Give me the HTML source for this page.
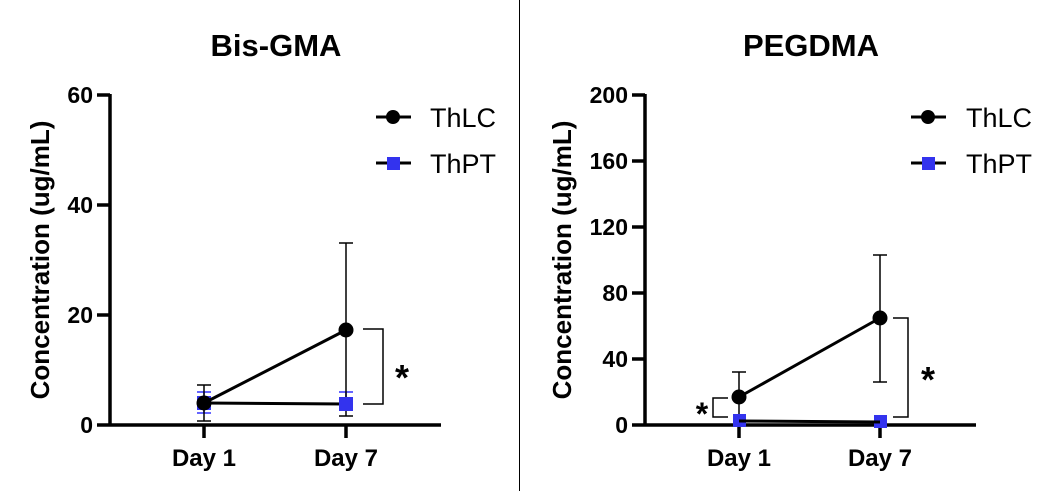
<!DOCTYPE html>
<html><head><meta charset="utf-8"><style>
html,body{margin:0;padding:0;background:#fff;}
svg{display:block;font-family:"Liberation Sans",Arial,sans-serif;}
</style></head><body>
<svg width="1053" height="491" viewBox="0 0 1053 491" xmlns="http://www.w3.org/2000/svg">
<rect width="1053" height="491" fill="#fff"/>
<line x1="519.5" y1="0" x2="519.5" y2="491" stroke="#000" stroke-width="1"/>

<!-- LEFT -->
<text x="276" y="56" font-size="31" font-weight="bold" text-anchor="middle">Bis-GMA</text>
<text transform="translate(49,260) rotate(-90)" font-size="26" font-weight="bold" text-anchor="middle">Concentration (ug/mL)</text>
<g stroke="#000" stroke-width="3.5" fill="none">
<line x1="110" y1="94" x2="110" y2="426"/>
<line x1="97" y1="425" x2="441" y2="425"/>
<line x1="97" y1="95" x2="110" y2="95"/>
<line x1="97" y1="205" x2="110" y2="205"/>
<line x1="97" y1="315" x2="110" y2="315"/>
<line x1="204" y1="425" x2="204" y2="438"/>
<line x1="346" y1="425" x2="346" y2="438"/>
</g>
<g font-size="23" font-weight="bold" text-anchor="end">
<text x="93" y="103">60</text><text x="93" y="213">40</text><text x="93" y="323">20</text><text x="93" y="433">0</text>
</g>
<g font-size="24" font-weight="bold" text-anchor="middle">
<text x="204" y="466">Day 1</text><text x="346" y="466">Day 7</text>
</g>
<g stroke="#3333ff" stroke-width="1.5">
<line x1="197" y1="392" x2="211" y2="392"/><line x1="197" y1="413" x2="211" y2="413"/><line x1="204" y1="392" x2="204" y2="413"/>
<line x1="339" y1="392" x2="353" y2="392"/><line x1="346" y1="392" x2="346" y2="404"/>
</g>
<g stroke="#000" stroke-width="1.5">
<line x1="197" y1="385" x2="211" y2="385"/><line x1="197" y1="421" x2="211" y2="421"/><line x1="204" y1="385" x2="204" y2="421"/>
<line x1="339" y1="243" x2="353" y2="243"/><line x1="339" y1="416" x2="353" y2="416"/><line x1="346" y1="243" x2="346" y2="416"/>
</g>
<polyline points="204,403 346,404" stroke="#000" stroke-width="3" fill="none"/>
<rect x="197" y="396" width="14" height="14" fill="#3333ee"/>
<rect x="339" y="397" width="14" height="14" fill="#3333ee"/>
<polyline points="204,403 346,330" stroke="#000" stroke-width="3" fill="none"/>
<circle cx="204" cy="403" r="7.5" fill="#000"/>
<circle cx="346" cy="330" r="7.5" fill="#000"/>
<polyline points="363,329 383,329 383,404 363,404" stroke="#000" stroke-width="1.5" fill="none"/>
<text x="402" y="390" font-size="36" font-weight="bold" text-anchor="middle">*</text>
<line x1="376" y1="117" x2="411" y2="117" stroke="#000" stroke-width="3"/>
<circle cx="393" cy="117" r="7" fill="#000"/>
<line x1="376" y1="163" x2="411" y2="163" stroke="#000" stroke-width="3"/>
<rect x="387" y="157" width="13" height="13" fill="#3333ee"/>
<text x="430" y="127" font-size="27">ThLC</text>
<text x="430" y="173" font-size="27">ThPT</text>

<!-- RIGHT -->
<text x="811" y="56" font-size="31" font-weight="bold" text-anchor="middle">PEGDMA</text>
<text transform="translate(571,260) rotate(-90)" font-size="26" font-weight="bold" text-anchor="middle">Concentration (ug/mL)</text>
<g stroke="#000" stroke-width="3.5" fill="none">
<line x1="645" y1="94" x2="645" y2="426"/>
<line x1="632" y1="425" x2="976" y2="425"/>
<line x1="632" y1="95" x2="645" y2="95"/>
<line x1="632" y1="161" x2="645" y2="161"/>
<line x1="632" y1="227" x2="645" y2="227"/>
<line x1="632" y1="293" x2="645" y2="293"/>
<line x1="632" y1="359" x2="645" y2="359"/>
<line x1="739" y1="425" x2="739" y2="438"/>
<line x1="880" y1="425" x2="880" y2="438"/>
</g>
<g font-size="23" font-weight="bold" text-anchor="end">
<text x="628" y="103">200</text><text x="628" y="169">160</text><text x="628" y="235">120</text><text x="628" y="301">80</text><text x="628" y="367">40</text><text x="628" y="433">0</text>
</g>
<g font-size="24" font-weight="bold" text-anchor="middle">
<text x="739" y="466">Day 1</text><text x="880" y="466">Day 7</text>
</g>
<g stroke="#000" stroke-width="1.5">
<line x1="732" y1="372" x2="746" y2="372"/><line x1="739" y1="372" x2="739" y2="420"/>
<line x1="873" y1="255" x2="887" y2="255"/><line x1="873" y1="382" x2="887" y2="382"/><line x1="880" y1="255" x2="880" y2="382"/>
</g>
<rect x="733" y="414" width="13" height="13" fill="#3333ee"/>
<rect x="874" y="415" width="13" height="13" fill="#3333ee"/>
<polyline points="739,421 880,422" stroke="#000" stroke-width="3" fill="none"/>
<polyline points="739,397 880,318" stroke="#000" stroke-width="3" fill="none"/>
<circle cx="739" cy="397" r="7.5" fill="#000"/>
<circle cx="880" cy="318" r="7.5" fill="#000"/>
<polyline points="893,318 908,318 908,417 893,417" stroke="#000" stroke-width="1.5" fill="none"/>
<text x="928" y="392" font-size="36" font-weight="bold" text-anchor="middle">*</text>
<polyline points="728,398 713,398 713,417 728,417" stroke="#000" stroke-width="1.5" fill="none"/>
<text x="702" y="425" font-size="32" font-weight="bold" text-anchor="middle">*</text>
<line x1="911" y1="117" x2="946" y2="117" stroke="#000" stroke-width="3"/>
<circle cx="928" cy="117" r="7" fill="#000"/>
<line x1="911" y1="163" x2="946" y2="163" stroke="#000" stroke-width="3"/>
<rect x="922" y="157" width="13" height="13" fill="#3333ee"/>
<text x="966" y="127" font-size="27">ThLC</text>
<text x="966" y="173" font-size="27">ThPT</text>
</svg>
</body></html>
